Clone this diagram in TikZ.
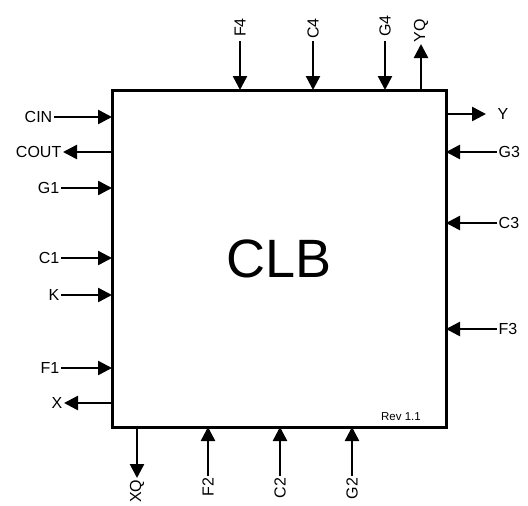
\documentclass[tikz,border=0pt]{standalone}
\usepackage{fontspec}
\setmainfont{Liberation Sans}
\usetikzlibrary{arrows.meta}
\begin{document}
\begin{tikzpicture}[x=1pt,y=-1pt,
  lbl/.style={font=\fontsize{16}{16}\selectfont, inner sep=1.5pt},
  sig/.style={draw, line width=2.5pt, -{Triangle[length=14pt,width=14pt]}}]
\useasboundingbox (0,0) rectangle (528,506);
\node[draw, line width=3pt, minimum width=334pt, minimum height=337pt, inner sep=0pt,
  font=\fontsize{54}{54}\selectfont] (clb) at (279,258.5) {CLB};
\node[font=\fontsize{11.5}{11.5}\selectfont] (rev) at (401,417) {Rev 1.1};
% left side
\node[lbl, anchor=east] (cin) at (54,117) {CIN};
\node[lbl, anchor=east] (cout) at (63,152) {COUT};
\node[lbl, anchor=east] (g1) at (61,188) {G1};
\node[lbl, anchor=east] (c1) at (61,258) {C1};
\node[lbl, anchor=east] (k) at (61,295) {K};
\node[lbl, anchor=east] (f1) at (61,368) {F1};
\node[lbl, anchor=east] (x) at (64,403) {X};
\coordinate (cin e) at (112,117);
\coordinate (cout e) at (112,152);
\coordinate (g1 e) at (112,188);
\coordinate (c1 e) at (112,258);
\coordinate (k e) at (112,295);
\coordinate (f1 e) at (112,368);
\coordinate (x e) at (112,403);
\path[sig] (cin) -- (cin e);
\path[sig] (cout e) -- (cout);
\path[sig] (g1) -- (g1 e);
\path[sig] (c1) -- (c1 e);
\path[sig] (k) -- (k e);
\path[sig] (f1) -- (f1 e);
\path[sig] (x e) -- (x);
% right side
\node[lbl, anchor=west] (y) at (496,114) {Y};
\node[lbl, anchor=west] (g3) at (497,152) {G3};
\node[lbl, anchor=west] (c3) at (497,223) {C3};
\node[lbl, anchor=west] (f3) at (497,329) {F3};
\coordinate (y e) at (446,114);
\coordinate (g3 e) at (446,152);
\coordinate (c3 e) at (446,223);
\coordinate (f3 e) at (446,329);
\path[sig, shorten >=10pt] (y e) -- (y);
\path[sig] (g3) -- (g3 e);
\path[sig] (c3) -- (c3 e);
\path[sig] (f3) -- (f3 e);
% top side
\node[lbl, rotate=90, anchor=west, inner xsep=4pt] (f4) at (240,41) {F4};
\node[lbl, rotate=90, anchor=west, inner xsep=2pt] (c4) at (313,41) {C4};
\node[lbl, rotate=90, anchor=west, inner xsep=4pt] (g4) at (385,41) {G4};
\node[lbl, rotate=90, anchor=west] (yq) at (421,44) {YQ};
\coordinate (f4 e) at (240,90);
\coordinate (c4 e) at (313,90);
\coordinate (g4 e) at (385,90);
\coordinate (yq e) at (421,90);
\path[sig] (f4) -- (f4 e);
\path[sig] (c4) -- (c4 e);
\path[sig] (g4) -- (g4 e);
\path[sig] (yq e) -- (yq);
% bottom side
\node[lbl, rotate=90, anchor=east] (xq) at (137,478) {XQ};
\node[lbl, rotate=90, anchor=east] (f2) at (208,476) {F2};
\node[lbl, rotate=90, anchor=east] (c2) at (280,476) {C2};
\node[lbl, rotate=90, anchor=east] (g2) at (352,476) {G2};
\coordinate (xq e) at (137,427);
\coordinate (f2 e) at (208,427);
\coordinate (c2 e) at (280,427);
\coordinate (g2 e) at (352,427);
\path[sig] (xq e) -- (xq);
\path[sig] (f2) -- (f2 e);
\path[sig] (c2) -- (c2 e);
\path[sig] (g2) -- (g2 e);
\end{tikzpicture}
\end{document}
